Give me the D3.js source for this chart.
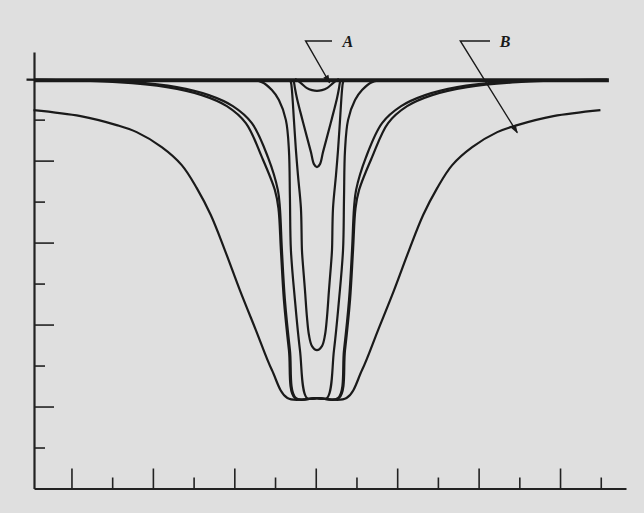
<!DOCTYPE html>
<html>
<head>
<meta charset="utf-8">
<script src="https://cdn.jsdelivr.net/npm/d3@7"></script>
<style>
  body { margin: 0; background: #dfdfdf; }
  svg { display: block; }
</style>
</head>
<body>
<svg width="644" height="513"></svg>
<script>
// x = offset from line centre (one unit = one tick), y = residual flux (1 = continuum)
// each profile is a half profile, mirrored around the centre
const xTicks = [-6, -5, -4, -3, -2, -1, 0, 1, 2, 3, 4, 5, 6, 7];
const yTicks = [0.1, 0.2, 0.3, 0.4, 0.5, 0.6, 0.7, 0.8, 0.9];
const lineCentre = 0.03;

const profileB = [[0, 0.2207], [0.726, 0.2207], [1.107, 0.289], [1.501, 0.3866], [1.894, 0.4841],
  [2.263, 0.5817], [2.608, 0.6671], [2.952, 0.7329], [3.321, 0.7890], [3.813, 0.8329], [4.428, 0.8695],
  [4.920, 0.8866], [5.806, 0.9085], [6.962, 0.9232]];
const profile2a = [[0, 0.2207], [0.541, 0.2207], [0.689, 0.3378], [0.812, 0.4598], [0.886, 0.5817],
  [0.947, 0.6841], [1.033, 0.7280], [1.353, 0.8085], [1.747, 0.8915], [2.214, 0.9329], [2.829, 0.9598],
  [3.690, 0.9793], [4.920, 0.9915], [6.396, 0.9963], [7.134, 0.9976]];
const profile2b = [[0, 0.2207], [0.517, 0.2207], [0.664, 0.3378], [0.787, 0.4598], [0.861, 0.5817],
  [0.910, 0.6841], [0.960, 0.7280], [1.205, 0.8085], [1.599, 0.8915], [2.066, 0.9329], [2.657, 0.9598],
  [3.444, 0.9793], [4.551, 0.9915], [5.904, 0.9963]];
const profileC = [[0, 0.2207], [0.246, 0.2207], [0.418, 0.3378], [0.541, 0.4598], [0.640, 0.5817],
  [0.664, 0.7085], [0.689, 0.8256], [0.763, 0.8988], [0.935, 0.9476], [1.107, 0.9720], [1.353, 0.9915],
  [1.722, 0.9963]];
const profileU = [[0, 0.3378], [0.123, 0.3476], [0.197, 0.3744], [0.246, 0.4183], [0.295, 0.4841],
  [0.344, 0.5451], [0.369, 0.5817], [0.394, 0.6841], [0.467, 0.7646], [0.517, 0.8256], [0.566, 0.8988],
  [0.615, 0.9720], [0.640, 0.9915], [0.664, 0.9963]];
const profileV = [[0, 0.7841], [0.074, 0.7915], [0.148, 0.8207], [0.246, 0.8573], [0.369, 0.9037],
  [0.492, 0.9524], [0.541, 0.9768], [0.566, 0.9915], [0.590, 0.9963]];
const profileA = [[0, 0.9702], [0.123, 0.9720], [0.246, 0.9768], [0.394, 0.9890], [0.492, 0.9963],
  [0.541, 0.9990]];

const profiles = [profileB, profile2a, profile2b, profileC, profileU, profileV, profileA];

let svg = d3.select("svg");

let x = d3.scaleLinear().domain([-6.92, 7.62]).range([34, 626]);
let y = d3.scaleLinear().domain([0, 1.065]).range([488.5, 52]);

// axes: ticks point inwards, alternate long and short
let xAxis = svg.append("g")
    .attr("transform", "translate(0,488.5)")
    .call(d3.axisTop(x).tickValues(xTicks).tickFormat("").tickSizeOuter(0).tickSize(0));
xAxis.select(".domain").attr("stroke", "#222").attr("stroke-width", 2.2);
xAxis.selectAll(".tick line")
    .attr("y2", d => d % 2 === 0 ? -20 : -11)
    .attr("stroke", "#222").attr("stroke-width", 1.6);

let yAxis = svg.append("g")
    .attr("transform", "translate(34,0)")
    .call(d3.axisRight(y).tickValues(yTicks).tickFormat("").tickSizeOuter(0).tickSize(0));
yAxis.select(".domain").attr("stroke", "#222").attr("stroke-width", 2.2);
yAxis.selectAll(".tick line")
    .attr("x2", d => Math.round(d * 10) % 2 === 0 ? 20 : 11)
    .attr("stroke", "#222").attr("stroke-width", 1.6);

// continuum
svg.append("line")
    .attr("x1", x(-6.92)).attr("x2", x(7.2))
    .attr("y1", y(0.996)).attr("y2", y(0.996))
    .attr("stroke", "#1a1a1a").attr("stroke-width", 4);

let line = d3.line()
    .x(d => x(d[0]))
    .y(d => y(d[1]))
    .curve(d3.curveCatmullRom.alpha(0.5));

function mirror(half) {
    let left = half.slice(1).reverse().map(p => [lineCentre - p[0], p[1]]);
    let right = half.map(p => [lineCentre + p[0], p[1]]);
    return left.concat(right);
}

svg.append("g")
    .selectAll("path")
    .data(profiles)
    .enter()
    .append("path")
    .attr("d", d => line(mirror(d)))
    .attr("fill", "none")
    .attr("stroke", "#1a1a1a")
    .attr("stroke-width", 2.2);

// labels with leader arrows
svg.append("defs").append("marker")
    .attr("id", "arr").attr("viewBox", "0 0 10 10")
    .attr("refX", 9).attr("refY", 5)
    .attr("markerWidth", 8).attr("markerHeight", 6)
    .attr("orient", "auto")
    .append("path").attr("d", "M0,1.5 L10,5 L0,8.5 z").attr("fill", "#1a1a1a");

let labels = [
    {text: "A", hx1: -0.25, hx2: 0.4, ty: 1.092, tip: [0.34, 0.99], tx: 0.66},
    {text: "B", hx1: 3.55, hx2: 4.28, ty: 1.092, tip: [4.95, 0.868], tx: 4.52}
];

labels.forEach(l => {
    svg.append("path")
        .attr("d", `M${x(l.hx2)},${y(l.ty)} L${x(l.hx1)},${y(l.ty)} L${x(l.tip[0])},${y(l.tip[1])}`)
        .attr("fill", "none").attr("stroke", "#1a1a1a").attr("stroke-width", 1.4)
        .attr("marker-end", "url(#arr)");
    svg.append("text")
        .attr("x", x(l.tx)).attr("y", y(l.ty) + 6)
        .attr("font-family", "Liberation Serif, serif")
        .attr("font-style", "italic")
        .attr("font-weight", "bold")
        .attr("font-size", 16)
        .attr("fill", "#1a1a1a")
        .text(l.text);
});
</script>
</body>
</html>
